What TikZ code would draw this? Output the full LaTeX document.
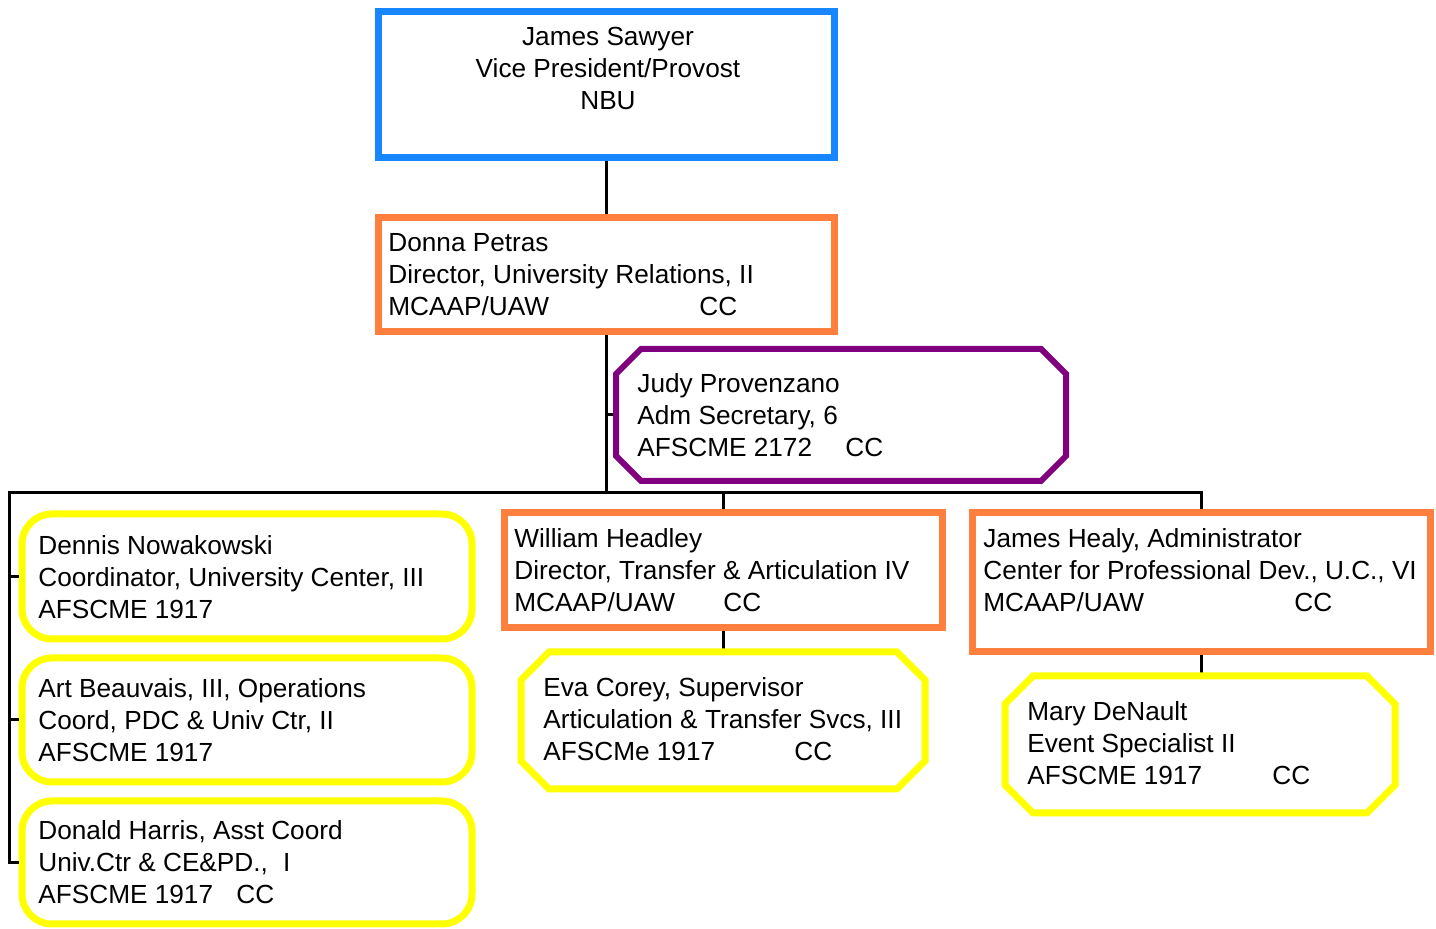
\documentclass[tikz,border=0pt]{standalone}
\usepackage{fontspec}
\setmainfont{Liberation Sans}
\usetikzlibrary{calc}
\definecolor{vpblue}{RGB}{24,134,255}
\definecolor{dirorange}{RGB}{255,127,63}
\definecolor{secpurple}{RGB}{128,0,128}
\definecolor{staffyellow}{RGB}{255,255,0}
\newcommand\octoutline[3]{\draw[#2] ($(#1.north west)+(#3,0)$) -- ($(#1.north east)+(-#3,0)$) -- ($(#1.north east)+(0,#3)$) -- ($(#1.south east)+(0,-#3)$) -- ($(#1.south east)+(-#3,0)$) -- ($(#1.south west)+(#3,0)$) -- ($(#1.south west)+(0,-#3)$) -- ($(#1.north west)+(0,#3)$) -- cycle;}
\begin{document}
\begin{tikzpicture}[x=0.5pt,y=-0.5pt,
 box/.style={draw, inner sep=0pt, line width=3.5pt},
 bluebox/.style={box, draw=vpblue, rectangle},
 orangebox/.style={box, draw=dirorange, rectangle},
 octframe/.style={rectangle, inner sep=0pt, outer sep=0pt},
 purpleline/.style={draw=secpurple, line width=3pt, line join=miter},
 yellowline/.style={draw=staffyellow, line width=3.5pt, line join=miter},
 yellowround/.style={box, draw=staffyellow, rounded corners=15pt, rectangle},
 txt/.style={inner sep=0pt, align=left, anchor=west, font=\fontsize{13.1}{16}\selectfont},
 link/.style={line width=1.5pt, black}
]
\fill[white] (0,0) rectangle (1436,929);
\useasboundingbox (0,0) rectangle (1436,929);

% boxes
\node[bluebox, minimum width=228pt, minimum height=73pt] (vp) at (606,85) {};
\node[txt, anchor=center, align=center] (vpt) at (608,68) {James Sawyer\\Vice President/Provost\\NBU};

\node[orangebox, minimum width=228pt, minimum height=57pt] (dp) at (606,275) {};
\node[txt] (dpt) at (388,275) {Donna Petras\\Director, University Relations, II\\\makebox[155.5pt][l]{MCAAP/UAW}CC};

\node[octframe, minimum width=225pt, minimum height=66pt] (jp) at (841,415) {};
\node[txt] (jpt) at (637,415) {Judy Provenzano\\Adm Secretary, 6\\\makebox[104pt][l]{AFSCME 2172}CC};

\node[yellowround, minimum width=225pt, minimum height=62.5pt] (dn) at (247,576.5) {};
\node[txt] (dnt) at (38,577) {Dennis Nowakowski\\Coordinator, University Center, III\\AFSCME 1917};

\node[yellowround, minimum width=225pt, minimum height=62pt] (ab) at (247,720) {};
\node[txt] (abt) at (38,720) {Art Beauvais, III, Operations\\Coord, PDC \& Univ Ctr, II\\AFSCME 1917};

\node[yellowround, minimum width=225pt, minimum height=61.5pt] (dh) at (247,862.5) {};
\node[txt] (dht) at (38,862) {Donald Harris, Asst Coord\\Univ.Ctr \& CE\&PD., \hspace{4pt}I\\\makebox[99pt][l]{AFSCME 1917}CC};

\node[orangebox, minimum width=219pt, minimum height=57.5pt] (wh) at (723,570.5) {};
\node[txt] (wht) at (514,570) {William Headley\\Director, Transfer \& Articulation IV\\\makebox[104.5pt][l]{MCAAP/UAW}CC};

\node[octframe, minimum width=202pt, minimum height=68.5pt] (ec) at (723,720.5) {};
\node[txt] (ect) at (543,719) {Eva Corey, Supervisor\\Articulation \& Transfer Svcs, III\\\makebox[125.5pt][l]{AFSCMe 1917}CC};

\node[orangebox, minimum width=229pt, minimum height=69.5pt] (jh) at (1201,582.5) {};
\node[txt] (jht) at (983,570) {James Healy, Administrator\\Center for Professional Dev., U.C., VI\\\makebox[155.5pt][l]{MCAAP/UAW}CC};

\node[octframe, minimum width=195pt, minimum height=68.5pt] (md) at (1200,744.5) {};
\node[txt] (mdt) at (1027,743) {Mary DeNault\\Event Specialist II\\\makebox[122.5pt][l]{AFSCME 1917}CC};

% connectors
\coordinate (busL) at (9,493);
\draw[link] (vp.south) -- (dp.north);
\draw[link] (dp.south) -- (dp.south |- busL);
\draw[link] (jp.west) -- (jp.west -| dp.south);
\draw[link] (jh.north) |- (busL) |- (dh.west);
\draw[link] (busL |- dn.west) -- (dn.west);
\draw[link] (busL |- ab.west) -- (ab.west);
\draw[link] (wh.north) -- (wh.north |- busL);
\draw[link] (wh.south) -- (wh.south |- ec.north);
\draw[link] (jh.south) -- (jh.south |- md.north);

% octagon outlines
\octoutline{jp}{purpleline}{25}
\octoutline{ec}{yellowline}{28}
\octoutline{md}{yellowline}{28}
\end{tikzpicture}
\end{document}
